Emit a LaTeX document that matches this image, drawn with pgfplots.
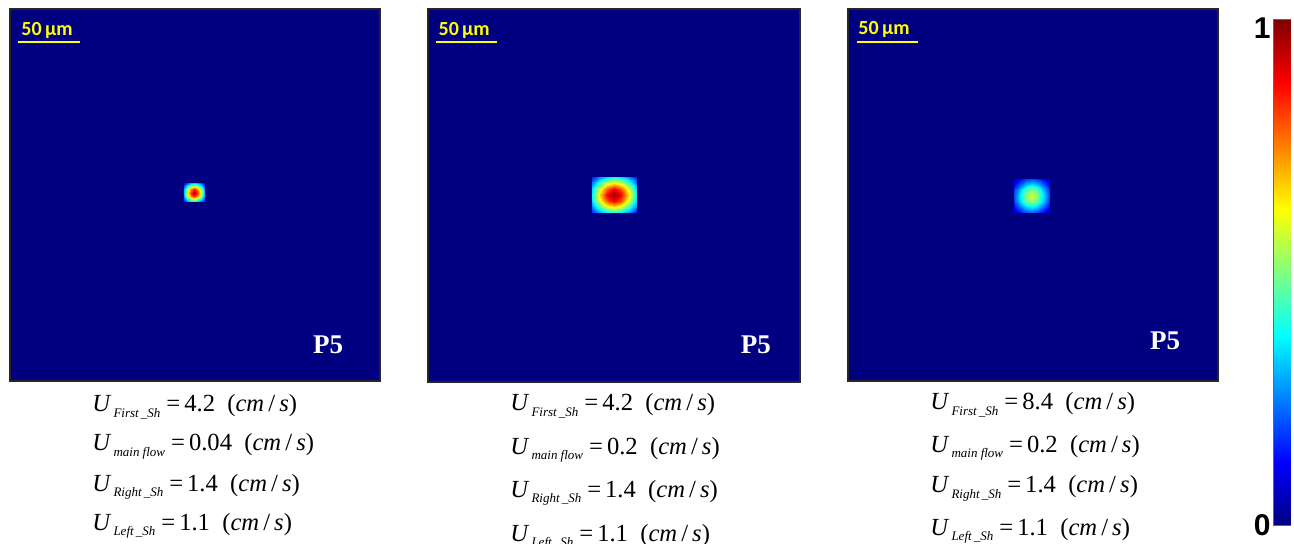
\documentclass[border=0pt]{standalone}
\usepackage{fontspec}
\setmainfont{Liberation Serif}
\newfontfamily\calibri{Carlito}
\newfontfamily\arial{Liberation Sans}
\usepackage{pgfplots}
\usepackage{pgfplotstable}
\pgfplotsset{compat=1.18}
\definecolor{jetbg}{RGB}{0,0,128}
\definecolor{sbyellow}{RGB}{255,255,0}

% blob values on a 7x7 grid (u,v in -3..3)
\pgfplotstableread{
u v z
-3 -3 0.114
-2 -3 0.206
-1 -3 0.293
0 -3 0.329
1 -3 0.293
2 -3 0.206
3 -3 0.114
-3 -2 0.206
-2 -2 0.370
-1 -2 0.527
0 -2 0.593
1 -2 0.527
2 -2 0.370
3 -2 0.206
-3 -1 0.293
-2 -1 0.527
-1 -1 0.751
0 -1 0.845
1 -1 0.751
2 -1 0.527
3 -1 0.293
-3 0 0.329
-2 0 0.593
-1 0 0.845
0 0 0.950
1 0 0.845
2 0 0.593
3 0 0.329
-3 1 0.293
-2 1 0.527
-1 1 0.751
0 1 0.845
1 1 0.751
2 1 0.527
3 1 0.293
-3 2 0.206
-2 2 0.370
-1 2 0.527
0 2 0.593
1 2 0.527
2 2 0.370
3 2 0.206
-3 3 0.114
-2 3 0.206
-1 3 0.293
0 3 0.329
1 3 0.293
2 3 0.206
3 3 0.114
}\blobA

\pgfplotstableread{
u v z
-3 -3 0.147
-2 -3 0.249
-1 -3 0.341
0 -3 0.379
1 -3 0.341
2 -3 0.249
3 -3 0.147
-3 -2 0.249
-2 -2 0.421
-1 -2 0.578
0 -2 0.643
1 -2 0.578
2 -2 0.421
3 -2 0.249
-3 -1 0.341
-2 -1 0.578
-1 -1 0.793
0 -1 0.882
1 -1 0.793
2 -1 0.578
3 -1 0.341
-3 0 0.379
-2 0 0.643
-1 0 0.882
0 0 0.980
1 0 0.882
2 0 0.643
3 0 0.379
-3 1 0.341
-2 1 0.578
-1 1 0.793
0 1 0.882
1 1 0.793
2 1 0.578
3 1 0.341
-3 2 0.249
-2 2 0.421
-1 2 0.578
0 2 0.643
1 2 0.578
2 2 0.421
3 2 0.249
-3 3 0.147
-2 3 0.249
-1 3 0.341
0 3 0.379
1 3 0.341
2 3 0.249
3 3 0.147
}\blobB

\pgfplotstableread{
u v z
-3 -3 0.070
-2 -3 0.126
-1 -3 0.179
0 -3 0.201
1 -3 0.179
2 -3 0.126
3 -3 0.070
-3 -2 0.126
-2 -2 0.226
-1 -2 0.322
0 -2 0.362
1 -2 0.322
2 -2 0.226
3 -2 0.126
-3 -1 0.179
-2 -1 0.322
-1 -1 0.458
0 -1 0.516
1 -1 0.458
2 -1 0.322
3 -1 0.179
-3 0 0.201
-2 0 0.362
-1 0 0.516
0 0 0.580
1 0 0.516
2 0 0.362
3 0 0.201
-3 1 0.179
-2 1 0.322
-1 1 0.458
0 1 0.516
1 1 0.458
2 1 0.322
3 1 0.179
-3 2 0.126
-2 2 0.226
-1 2 0.322
0 2 0.362
1 2 0.322
2 2 0.226
3 2 0.126
-3 3 0.070
-2 3 0.126
-1 3 0.179
0 3 0.201
1 3 0.179
2 3 0.126
3 3 0.070
}\blobC

\pgfplotstableread{
x y z
0 0 0
1 0 0
0 0.125 0.125
1 0.125 0.125
0 0.375 0.375
1 0.375 0.375
0 0.625 0.625
1 0.625 0.625
0 0.875 0.875
1 0.875 0.875
0 1 1
1 1 1
}\cbar

\pgfplotsset{
  panel/.style={
    anchor=north west, scale only axis,
    xmin=0, xmax=370, ymin=0, ymax=372, y dir=reverse,
    xtick=\empty, ytick=\empty,
    axis background/.style={fill=jetbg},
    axis line style={line width=0.7pt, black!85},
    colormap/jet, point meta min=0, point meta max=1,
  },
}
\newcommand\scalebartext{{\calibri\bfseries\fontsize{10}{12}\selectfont 50\,µm}}
\newcommand\pfive{{\bfseries\fontsize{13.5}{16}\selectfont P5}}
\newcommand\eql[2]{{\fontsize{12.3}{14}\selectfont\textit{U}\kern1pt\raisebox{-2.6pt}{\fontsize{6.5}{7}\selectfont\textit{#1}}\kern3pt=\kern2pt#2\ \ (\textit{cm}\,/\,\textit{s})}}

\begin{document}
\begin{tikzpicture}
\useasboundingbox (0,0) rectangle (647pt,-272pt);

% ---- panel 1
\begin{axis}[panel, at={(5pt,-4.5pt)}, width=185pt, height=186pt]
\addplot[surf, shader=interp, mesh/cols=7, point meta=explicit]
  table[x expr={184+3.333*\thisrow{u}}, y expr={183.5+3.1667*\thisrow{v}}, meta=z] {\blobA};
\draw[sbyellow, line width=1.25pt] (axis cs:8,33) -- (axis cs:70,33);
\node[text=sbyellow] at (axis cs:37,22) {\scalebartext};
\node[text=white] at (axis cs:318,336) {\pfive};
\end{axis}

% ---- panel 2
\begin{axis}[panel, at={(214pt,-4.5pt)}, width=186pt, height=186.5pt]
\addplot[surf, shader=interp, mesh/cols=7, point meta=explicit]
  table[x expr={185+7.333*\thisrow{u}}, y expr={185.5+5.8333*\thisrow{v}}, meta=z] {\blobB};
\draw[sbyellow, line width=1.25pt] (axis cs:8,33) -- (axis cs:69,33);
\node[text=sbyellow] at (axis cs:36,21) {\scalebartext};
\node[text=white] at (axis cs:326,335) {\pfive};
\end{axis}

% ---- panel 3
\begin{axis}[panel, at={(424pt,-4.5pt)}, width=185pt, height=186pt]
\addplot[surf, shader=interp, mesh/cols=7, point meta=explicit]
  table[x expr={183.5+5.8333*\thisrow{u}}, y expr={187+5.6667*\thisrow{v}}, meta=z] {\blobC};
\draw[sbyellow, line width=1.25pt] (axis cs:9,33) -- (axis cs:70,33);
\node[text=sbyellow] at (axis cs:36,21) {\scalebartext};
\node[text=white] at (axis cs:317,332) {\pfive};
\end{axis}

% ---- colorbar
\begin{axis}[at={(637pt,-10pt)}, anchor=north west, scale only axis,
  width=8pt, height=252.5pt, xmin=0, xmax=1, ymin=0, ymax=1,
  xtick=\empty, ytick={0.114,0.262,0.41,0.559,0.707,0.855}, yticklabels={},
  tick align=inside, major tick length=2.5pt, tick style={black, line width=0.5pt},
  axis line style={line width=0.6pt, black!60},
  colormap/jet, point meta min=0, point meta max=1]
\addplot[surf, shader=interp, mesh/cols=2, point meta=explicit] table[meta=z] {\cbar};
\end{axis}
\node[anchor=east, inner sep=0pt] at (635.5pt,-14pt) {\arial\bfseries\fontsize{15}{16}\selectfont 1};
\node[anchor=east, inner sep=0pt] at (635.5pt,-262.5pt) {\arial\bfseries\fontsize{15}{16}\selectfont 0};

% ---- equations
\node[anchor=base west, inner sep=0pt] at (46pt,-206pt) {\eql{First\,\_Sh}{4.2}};
\node[anchor=base west, inner sep=0pt] at (46pt,-225.5pt) {\eql{main flow}{0.04}};
\node[anchor=base west, inner sep=0pt] at (46pt,-245.5pt) {\eql{Right\,\_Sh}{1.4}};
\node[anchor=base west, inner sep=0pt] at (46pt,-265pt) {\eql{Left\,\_Sh}{1.1}};

\node[anchor=base west, inner sep=0pt] at (255pt,-205.5pt) {\eql{First\,\_Sh}{4.2}};
\node[anchor=base west, inner sep=0pt] at (255pt,-227pt) {\eql{main flow}{0.2}};
\node[anchor=base west, inner sep=0pt] at (255pt,-248.5pt) {\eql{Right\,\_Sh}{1.4}};
\node[anchor=base west, inner sep=0pt] at (255pt,-270.5pt) {\eql{Left\,\_Sh}{1.1}};

\node[anchor=base west, inner sep=0pt] at (465pt,-205pt) {\eql{First\,\_Sh}{8.4}};
\node[anchor=base west, inner sep=0pt] at (465pt,-226pt) {\eql{main flow}{0.2}};
\node[anchor=base west, inner sep=0pt] at (465pt,-246.5pt) {\eql{Right\,\_Sh}{1.4}};
\node[anchor=base west, inner sep=0pt] at (465pt,-267.5pt) {\eql{Left\,\_Sh}{1.1}};
\end{tikzpicture}
\end{document}
